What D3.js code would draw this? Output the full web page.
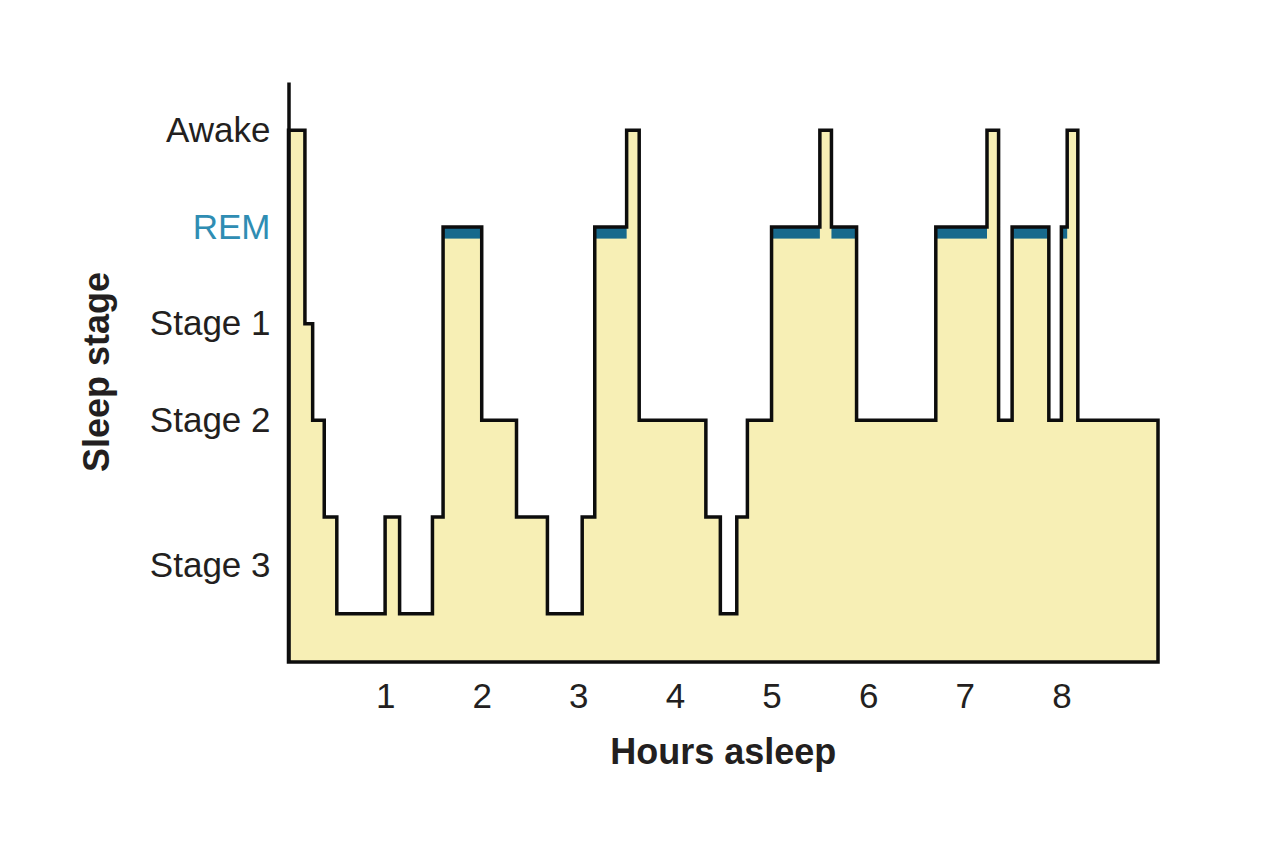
<!DOCTYPE html>
<html>
<head>
<meta charset="utf-8">
<script src="https://cdn.jsdelivr.net/npm/d3@7"></script>
<style>
  body { margin: 0; background: #fff; }
  text { font-family: "Liberation Sans", Arial, sans-serif; fill: #231f20; }
</style>
</head>
<body>
<svg id="chart"></svg>
<script>
// hours at which each stage begins (last entry = end of night)
var hours = [0, 0.17, 0.25, 0.37, 0.5, 1.0, 1.15, 1.49, 1.6, 2.0, 2.36, 2.68, 3.04, 3.17, 3.5, 3.63,
             4.32, 4.47, 4.64, 4.75, 5.0, 5.5, 5.62, 5.88, 6.7, 7.23, 7.35, 7.49, 7.87, 8.0, 8.06, 8.17, 9.0]
// 5 = Awake, 4 = REM, 3 = Stage 1, 2 = Stage 2, 1 / 0 = Stage 3
var stages = [5, 3, 2, 1, 0, 1, 0, 1, 4, 2, 1, 0, 1, 4, 5, 2,
              1, 0, 1, 2, 4, 5, 4, 2, 4, 5, 2, 4, 2, 4, 5, 2, 2]
var stageLabels = ['Awake', 'REM', 'Stage 1', 'Stage 2', 'Stage 3']
var stageTicks = [5, 4, 3, 2, 0.5]
var hourTicks = [1, 2, 3, 4, 5, 6, 7, 8]

var width = 1280, height = 853
var svg = d3.select('#chart')
    .attr('width', width)
    .attr('height', height)

var x = d3.scaleLinear().domain([0, 9]).range([288.5, 1158])
var y = d3.scaleLinear().domain([-0.5, 5.5]).range([662, 82])

var data = hours.map(function (h, i) { return { h: h, s: stages[i] } })

var area = d3.area()
    .x(function (d) { return x(d.h) })
    .y0(y(-0.5))
    .y1(function (d) { return y(d.s) })
    .curve(d3.curveStepAfter)

svg.append('path')
    .datum(data)
    .attr('d', area)
    .attr('fill', '#f7efb5')

// dark band on top of REM periods
var remBand = 0.12
svg.selectAll('rect.rem')
    .data(data.slice(0, -1).filter(function (d) { return d.s == 4 }))
    .enter()
    .append('rect')
    .attr('class', 'rem')
    .attr('x', function (d) { return x(d.h) })
    .attr('width', function (d) {
        var next = data[data.indexOf(d) + 1]
        return x(next.h) - x(d.h)
    })
    .attr('y', y(4))
    .attr('height', y(4 - remBand) - y(4))
    .attr('fill', '#17698c')

svg.append('path')
    .datum(data)
    .attr('d', area)
    .attr('fill', 'none')
    .attr('stroke', '#0d0d0d')
    .attr('stroke-width', 3.5)
    .attr('stroke-linejoin', 'miter')

var yAxis = d3.axisLeft(y)
    .tickValues(stageTicks)
    .tickFormat(function (d, i) { return stageLabels[i] })
    .tickSize(0)
    .tickPadding(18)

var gy = svg.append('g')
    .attr('transform', 'translate(' + x(0) + ',0)')
    .call(yAxis)
gy.select('.domain').attr('stroke', '#0d0d0d').attr('stroke-width', 3.5)
gy.selectAll('text')
    .style('font-size', '35px')
    .style('fill', function (d) { return d == 4 ? '#2f8db3' : '#231f20' })

var xAxis = d3.axisBottom(x)
    .tickValues(hourTicks)
    .tickSize(0)
    .tickPadding(21)

var gx = svg.append('g')
    .attr('transform', 'translate(0,' + y(-0.5) + ')')
    .call(xAxis)
gx.select('.domain').remove()
gx.selectAll('text').style('font-size', '35px')

svg.append('text')
    .attr('x', x(4.5))
    .attr('y', 764)
    .attr('text-anchor', 'middle')
    .style('font-size', '36px')
    .style('font-weight', 'bold')
    .text('Hours asleep')

svg.append('text')
    .attr('transform', 'translate(109,' + y(2.5) + ') rotate(-90)')
    .attr('text-anchor', 'middle')
    .style('font-size', '36px')
    .style('font-weight', 'bold')
    .text('Sleep stage')
</script>
</body>
</html>
